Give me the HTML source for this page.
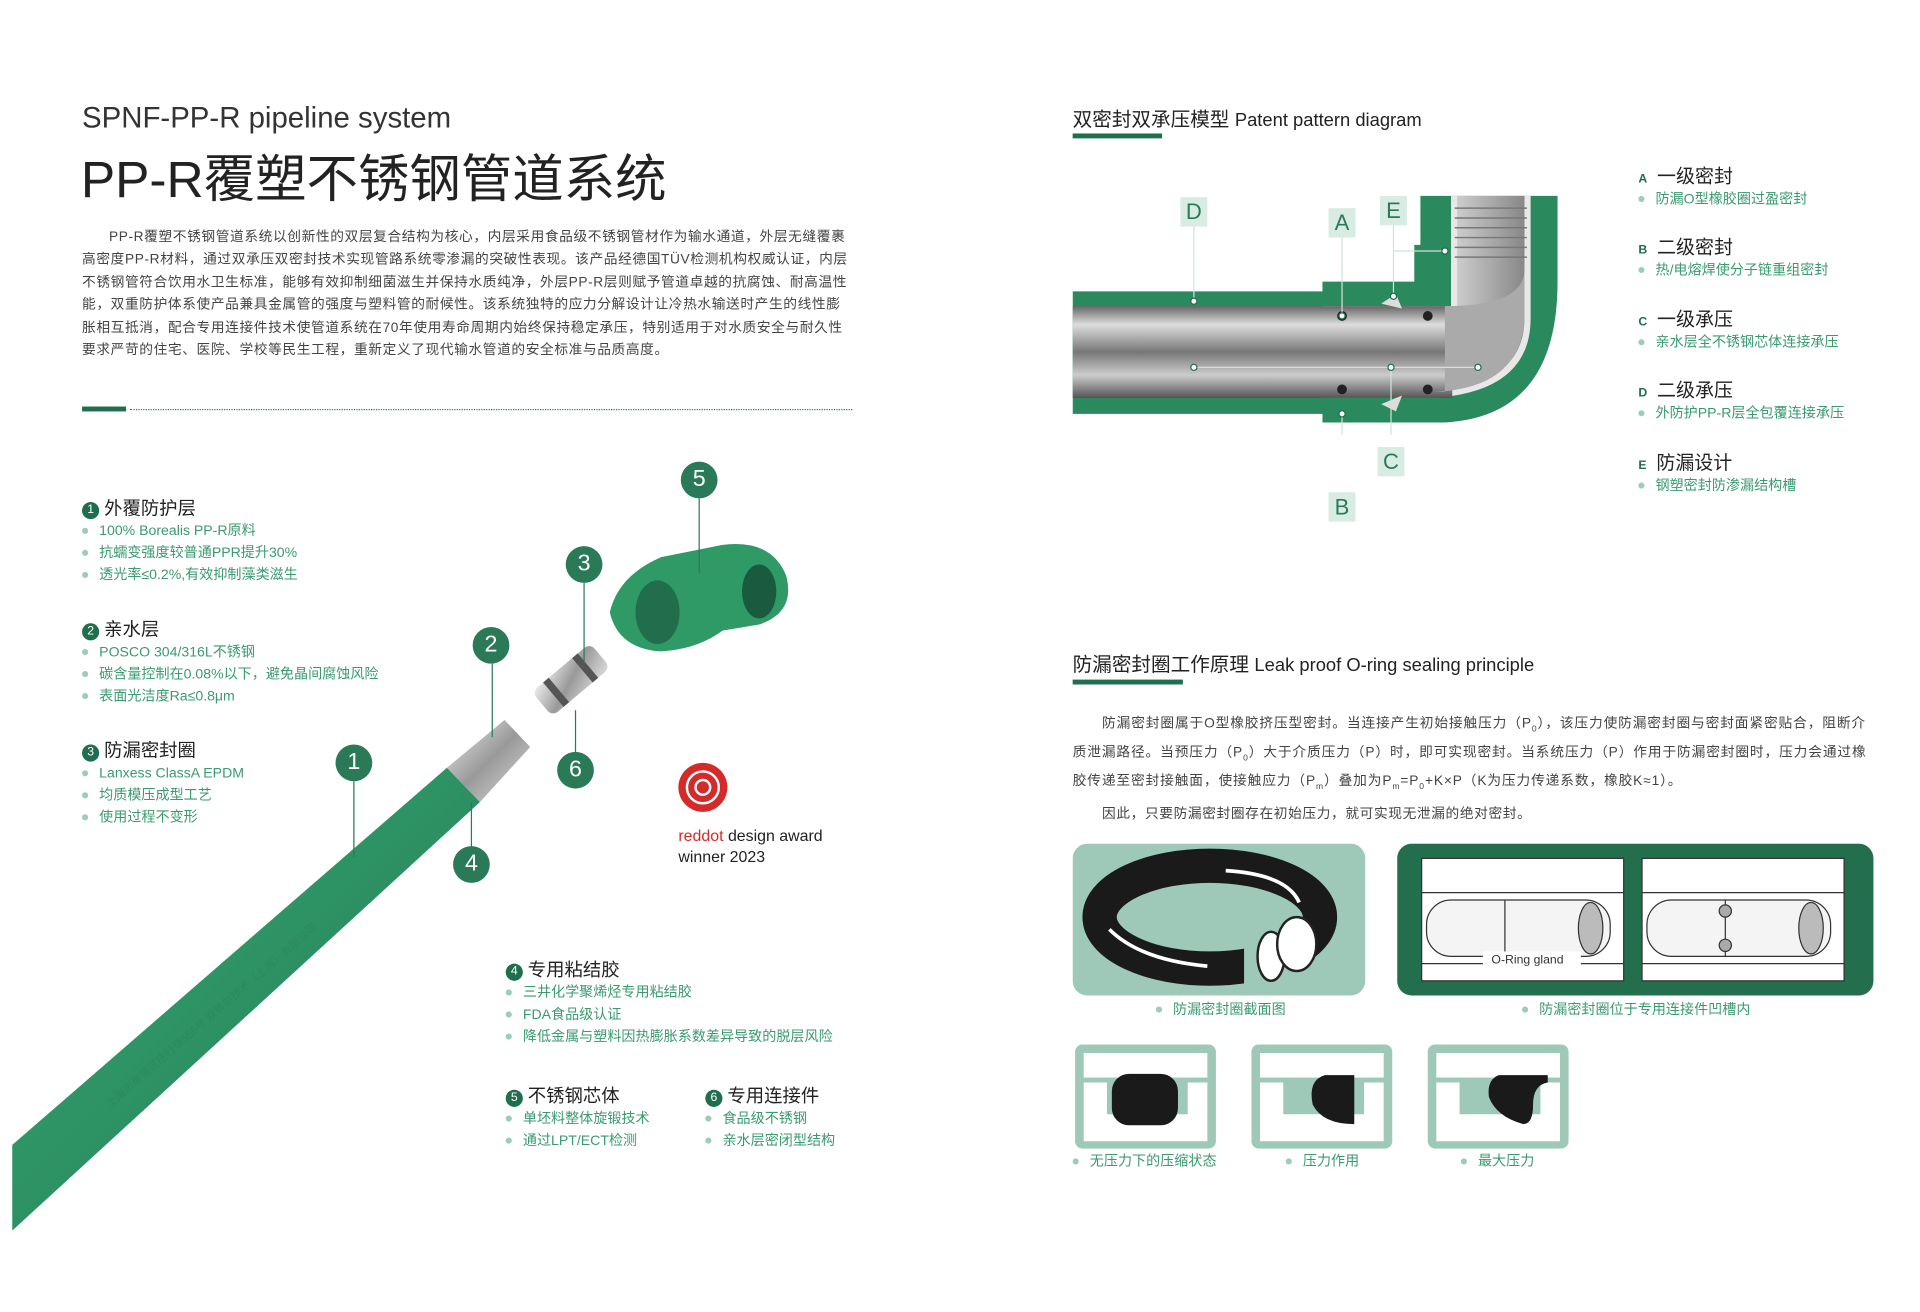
<!DOCTYPE html>
<html><head><meta charset="utf-8"><style>
*{margin:0;padding:0;box-sizing:border-box}
html,body{width:1920px;height:1312px;overflow:hidden;background:#fff}
#w{position:absolute;left:0;top:0;width:1568px;height:1071px;transform:scale(1.22449);transform-origin:0 0;font-family:"Liberation Sans","Noto Sans CJK SC",sans-serif;color:#333}
.a{position:absolute;white-space:nowrap}
.p{font-size:11.2px;line-height:18.4px;color:#444;white-space:normal;letter-spacing:0.5px}
.h{font-size:15px;color:#222}
.b{font-size:11.5px;color:#3a9a70;line-height:18px}
.b span{display:inline-block;width:5px;height:5px;border-radius:50%;background:#9ccdb6;margin-right:9px;vertical-align:middle}
.n{display:inline-block;width:14px;height:14px;border-radius:50%;background:#1f6e4e;color:#fff;font-size:10px;text-align:center;line-height:14px;margin-right:4px;vertical-align:1px}
.c{position:absolute;width:30px;height:30px;border-radius:50%;background:#2a7a58;color:#fff;font-size:19px;text-align:center;line-height:30px}
.L{position:absolute;width:22px;height:24px;background:#d8ece4;color:#2a7a58;font-size:18px;text-align:center;line-height:24px}
.k{font-size:10px;font-weight:bold;color:#1f6e4e;margin-right:8px}
</style></head><body><div id="w">
<div class="a" style="left:67px;top:83px;font-size:24px;color:#333">SPNF-PP-R pipeline system</div>
<div class="a" style="left:66px;top:113px;font-size:42px;color:#222">PP-R覆塑不锈钢管道系统</div>
<div class="a p" style="left:67px;top:185px;width:630px;text-indent:22px">PP-R覆塑不锈钢管道系统以创新性的双层复合结构为核心，内层采用食品级不锈钢管材作为输水通道，外层无缝覆裹高密度PP-R材料，通过双承压双密封技术实现管路系统零渗漏的突破性表现。该产品经德国TÜV检测机构权威认证，内层不锈钢管符合饮用水卫生标准，能够有效抑制细菌滋生并保持水质纯净，外层PP-R层则赋予管道卓越的抗腐蚀、耐高温性能，双重防护体系使产品兼具金属管的强度与塑料管的耐候性。该系统独特的应力分解设计让冷热水输送时产生的线性膨胀相互抵消，配合专用连接件技术使管道系统在70年使用寿命周期内始终保持稳定承压，特别适用于对水质安全与耐久性要求严苛的住宅、医院、学校等民生工程，重新定义了现代输水管道的安全标准与品质高度。</div>
<div class="a" style="left:67px;top:332px;width:36px;height:4px;background:#1f6e4e"></div>
<div class="a" style="left:106px;top:334px;width:590px;border-top:1px dotted #2a7a58"></div>

<div class="a" style="left:67px;top:404px"><div class="h"><span class="n">1</span>外覆防护层</div><div class="b"><span></span>100% Borealis PP-R原料</div><div class="b"><span></span>抗蠕变强度较普通PPR提升30%</div><div class="b"><span></span>透光率≤0.2%,有效抑制藻类滋生</div></div>
<div class="a" style="left:67px;top:503px"><div class="h"><span class="n">2</span>亲水层</div><div class="b"><span></span>POSCO 304/316L不锈钢</div><div class="b"><span></span>碳含量控制在0.08%以下，避免晶间腐蚀风险</div><div class="b"><span></span>表面光洁度Ra≤0.8μm</div></div>
<div class="a" style="left:67px;top:602px"><div class="h"><span class="n">3</span>防漏密封圈</div><div class="b"><span></span>Lanxess ClassA EPDM</div><div class="b"><span></span>均质模压成型工艺</div><div class="b"><span></span>使用过程不变形</div></div>
<div class="a" style="left:413px;top:781px"><div class="h"><span class="n">4</span>专用粘结胶</div><div class="b"><span></span>三井化学聚烯烃专用粘结胶</div><div class="b"><span></span>FDA食品级认证</div><div class="b"><span></span>降低金属与塑料因热膨胀系数差异导致的脱层风险</div></div>
<div class="a" style="left:413px;top:884px"><div class="h"><span class="n">5</span>不锈钢芯体</div><div class="b"><span></span>单坯料整体旋锻技术</div><div class="b"><span></span>通过LPT/ECT检测</div></div>
<div class="a" style="left:576px;top:884px"><div class="h"><span class="n">6</span>专用连接件</div><div class="b"><span></span>食品级不锈钢</div><div class="b"><span></span>亲水层密闭型结构</div></div>

<svg class="a" style="left:0;top:370px" width="700" height="650" viewBox="0 370 700 650">
<defs><linearGradient id="s" x1="0" y1="0" x2="1" y2="1"><stop offset="0" stop-color="#eee"/><stop offset=".5" stop-color="#999"/><stop offset="1" stop-color="#ddd"/></linearGradient>
<linearGradient id="g" x1="0" y1="0" x2="1" y2="1"><stop offset="0" stop-color="#3aa874"/><stop offset="1" stop-color="#1f7a52"/></linearGradient></defs>
<polygon points="10,935 365,627 392,655 10,1005" fill="url(#g)"/>
<polygon points="365,627 412,588 433,610 392,655" fill="url(#s)"/>
<text x="90" y="905" fill="#2a8a5e" font-size="9" transform="rotate(-41 90 905)">上海市奉贤区庄行镇555号   双锁尔技术（上海）有限公司</text>
<g transform="rotate(-40 465 555)"><rect x="435" y="543" width="62" height="26" rx="6" fill="url(#s)"/><rect x="447" y="543" width="6" height="26" fill="#555"/><rect x="478" y="543" width="6" height="26" fill="#555"/></g>
<path d="M498 500 Q505 470 540 455 L590 445 Q630 440 642 470 Q650 500 620 510 L590 515 Q570 530 540 532 Q505 530 498 500Z" fill="#2f9a66"/>
<ellipse cx="537" cy="500" rx="18" ry="26" fill="#226d4c"/><ellipse cx="620" cy="483" rx="14" ry="22" fill="#1a5a3e"/>
<g stroke="#2a7a58" stroke-width="1" fill="none"><line x1="571" y1="407" x2="571" y2="468"/><line x1="477" y1="476" x2="477" y2="540"/><line x1="470" y1="580" x2="470" y2="615"/><line x1="402" y1="542" x2="402" y2="602"/><line x1="289" y1="638" x2="289" y2="700"/><line x1="385" y1="655" x2="385" y2="692"/></g>
</svg>
<div class="c" style="left:556px;top:377px">5</div><div class="c" style="left:462px;top:446px">3</div><div class="c" style="left:386px;top:512px">2</div><div class="c" style="left:455px;top:614px">6</div><div class="c" style="left:274px;top:608px">1</div><div class="c" style="left:370px;top:691px">4</div>
<svg class="a" style="left:553px;top:622px" width="42" height="42"><circle cx="21" cy="21" r="20" fill="#d42a2a"/><circle cx="21" cy="21" r="13" fill="none" stroke="#fff" stroke-width="2"/><circle cx="21" cy="21" r="6" fill="none" stroke="#fff" stroke-width="2"/></svg>
<div class="a" style="left:554px;top:674px;font-size:13px;line-height:17px;color:#222"><span style="color:#d42a2a">reddot</span> design award<br>winner 2023</div>

<div class="a" style="left:876px;top:84px;font-size:16px;color:#222">双密封双承压模型 <span style="font-size:15px">Patent pattern diagram</span></div>
<div class="a" style="left:876px;top:109px;width:73px;height:4px;background:#1f6e4e"></div>
<svg class="a" style="left:876px;top:155px" width="410" height="200" viewBox="876 155 410 200">
<defs><linearGradient id="m" x1="0" y1="0" x2="0" y2="1"><stop offset="0" stop-color="#666"/><stop offset=".2" stop-color="#ddd"/><stop offset=".5" stop-color="#777"/><stop offset=".75" stop-color="#ccc"/><stop offset="1" stop-color="#555"/></linearGradient>
<linearGradient id="t" x1="0" y1="0" x2="1" y2="0"><stop offset="0" stop-color="#888"/><stop offset=".5" stop-color="#eee"/><stop offset="1" stop-color="#888"/></linearGradient></defs>
<path d="M876 238 L1080 238 L1080 230 L1155 230 L1155 200 L1160 200 L1160 160 L1272 160 L1272 230 Q1272 340 1180 345 L1080 345 L1080 338 L876 338Z" fill="#2a8a5e"/>
<path d="M1185 160 L1250 160 L1250 260 Q1250 320 1170 325 L1080 325 L1080 250 L1185 250Z" fill="#e8e8e8"/>
<path d="M1190 160 L1245 160 L1245 262 Q1243 315 1170 318 L1080 318 L1080 258 L1190 258Z" fill="url(#t)"/>
<g stroke="#777" stroke-width="1.2"><line x1="1188" y1="170" x2="1247" y2="170"/><line x1="1188" y1="178" x2="1247" y2="178"/><line x1="1188" y1="186" x2="1247" y2="186"/><line x1="1188" y1="194" x2="1247" y2="194"/><line x1="1188" y1="202" x2="1247" y2="202"/><line x1="1188" y1="210" x2="1247" y2="210"/></g>
<rect x="876" y="250" width="310" height="75" fill="url(#m)"/>
<path d="M1180 250 Q1245 250 1245 220 L1245 262 Q1240 318 1170 320 L1180 320Z" fill="#aaa"/>
<g fill="#222"><circle cx="1096" cy="258" r="4"/><circle cx="1096" cy="318" r="4"/><circle cx="1166" cy="258" r="4"/><circle cx="1166" cy="318" r="4"/></g>
<path d="M1128 248 L1140 240 L1145 252Z M1128 330 L1140 336 L1145 323Z" fill="#ddd"/>
<g stroke="#cfe3da" stroke-width="1" fill="#fff"><line x1="975" y1="185" x2="975" y2="246"/><line x1="1096" y1="192" x2="1096" y2="258"/><line x1="1138" y1="182" x2="1138" y2="242"/><line x1="1138" y1="205" x2="1180" y2="205"/><line x1="975" y1="300" x2="1207" y2="300"/><line x1="1136" y1="300" x2="1136" y2="365"/><line x1="1096" y1="338" x2="1096" y2="400"/></g>
<g fill="#fff" stroke="#1f6e4e" stroke-width="1"><circle cx="975" cy="246" r="2.5"/><circle cx="1096" cy="258" r="2.5"/><circle cx="1138" cy="242" r="2.5"/><circle cx="1180" cy="205" r="2.5"/><circle cx="975" cy="300" r="2.5"/><circle cx="1136" cy="300" r="2.5"/><circle cx="1207" cy="300" r="2.5"/><circle cx="1096" cy="338" r="2.5"/></g>
</svg>
<div class="L" style="left:964px;top:161px">D</div><div class="L" style="left:1085px;top:170px">A</div><div class="L" style="left:1127px;top:160px">E</div><div class="L" style="left:1125px;top:365px">C</div><div class="L" style="left:1085px;top:402px">B</div>

<div class="a" style="left:1338px;top:132px"><div class="h" style="font-size:15.5px"><span class="k">A</span>一级密封</div><div class="b"><span></span>防漏O型橡胶圈过盈密封</div></div>
<div class="a" style="left:1338px;top:190px"><div class="h" style="font-size:15.5px"><span class="k">B</span>二级密封</div><div class="b"><span></span>热/电熔焊使分子链重组密封</div></div>
<div class="a" style="left:1338px;top:249px"><div class="h" style="font-size:15.5px"><span class="k">C</span>一级承压</div><div class="b"><span></span>亲水层全不锈钢芯体连接承压</div></div>
<div class="a" style="left:1338px;top:307px"><div class="h" style="font-size:15.5px"><span class="k">D</span>二级承压</div><div class="b"><span></span>外防护PP-R层全包覆连接承压</div></div>
<div class="a" style="left:1338px;top:366px"><div class="h" style="font-size:15.5px"><span class="k">E</span>防漏设计</div><div class="b"><span></span>钢塑密封防渗漏结构槽</div></div>

<div class="a" style="left:876px;top:529px;font-size:16px;color:#222">防漏密封圈工作原理 <span style="font-size:15px">Leak proof O-ring sealing principle</span></div>
<div class="a" style="left:876px;top:555px;width:90px;height:4px;background:#1f6e4e"></div>
<div class="a p" style="left:876px;top:582px;width:652px;text-indent:24px;letter-spacing:0.72px">防漏密封圈属于O型橡胶挤压型密封。当连接产生初始接触压力（P<sub style="font-size:7px">0</sub>），该压力使防漏密封圈与密封面紧密贴合，阻断介质泄漏路径。当预压力（P<sub style="font-size:7px">0</sub>）大于介质压力（P）时，即可实现密封。当系统压力（P）作用于防漏密封圈时，压力会通过橡胶传递至密封接触面，使接触应力（P<sub style="font-size:7px">m</sub>）叠加为P<sub style="font-size:7px">m</sub>=P<sub style="font-size:7px">0</sub>+K×P（K为压力传递系数，橡胶K≈1）。</div>
<div class="a p" style="left:900px;top:656px">因此，只要防漏密封圈存在初始压力，就可实现无泄漏的绝对密封。</div>

<svg class="a" style="left:876px;top:689px" width="239" height="124"><rect width="239" height="124" rx="12" fill="#9ec9b8"/>
<ellipse cx="112" cy="60" rx="90" ry="42" fill="none" stroke="#1a1a1a" stroke-width="28"/><path d="M125 22 Q175 25 185 48" stroke="#fff" stroke-width="3" fill="none"/><path d="M30 70 Q55 95 110 100" stroke="#fff" stroke-width="3" fill="none"/>
<rect x="140" y="55" width="40" height="60" fill="#9ec9b8"/><ellipse cx="162" cy="92" rx="11" ry="20" fill="#fff" stroke="#222" stroke-width="2"/><ellipse cx="183" cy="82" rx="16" ry="22" fill="#fff" stroke="#222" stroke-width="2"/></svg>
<svg class="a" style="left:1141px;top:689px" width="389" height="124"><rect width="389" height="124" rx="12" fill="#236e4d"/>
<g fill="#fff" stroke="#333" stroke-width="1"><rect x="20" y="12" width="165" height="100"/><rect x="200" y="12" width="165" height="100"/>
<rect x="24" y="46" width="150" height="46" rx="20" fill="#f4f4f4"/><rect x="204" y="46" width="150" height="46" rx="20" fill="#f4f4f4"/><ellipse cx="158" cy="69" rx="10" ry="21" fill="#bbb"/><ellipse cx="338" cy="69" rx="10" ry="21" fill="#bbb"/><line x1="20" y1="40" x2="185" y2="40"/><line x1="20" y1="98" x2="185" y2="98"/><line x1="200" y1="40" x2="365" y2="40"/><line x1="200" y1="98" x2="365" y2="98"/><line x1="88" y1="46" x2="88" y2="92"/><line x1="268" y1="46" x2="268" y2="92"/><circle cx="268" cy="55" r="5" fill="#aaa"/><circle cx="268" cy="83" r="5" fill="#aaa"/></g>
<rect x="70" y="88" width="80" height="14" fill="#fff"/>
<text x="77" y="98" font-size="10" fill="#333" font-family="Liberation Sans">O-Ring gland</text></svg>
<div class="a b" style="left:944px;top:816px"><span></span>防漏密封圈截面图</div>
<div class="a b" style="left:1243px;top:816px"><span></span>防漏密封圈位于专用连接件凹槽内</div>

<svg class="a" style="left:876px;top:852px" width="410" height="88">
<g><rect x="2" y="1" width="115" height="85" rx="6" fill="#9ec9b8"/><rect x="9" y="8" width="101" height="20" fill="#fff"/><path d="M9 32 H28 V58 H94 V32 H110 V80 H9Z" fill="#fff"/><rect x="32" y="25" width="54" height="42" rx="14" fill="#1a1a1a"/></g>
<g transform="translate(144,0)"><rect x="2" y="1" width="115" height="85" rx="6" fill="#9ec9b8"/><rect x="9" y="8" width="101" height="20" fill="#fff"/><path d="M9 32 H28 V58 H94 V32 H110 V80 H9Z" fill="#fff"/><path d="M62 26 H86 V66 Q60 66 52 50 Q48 30 62 26Z" fill="#1a1a1a"/></g>
<g transform="translate(288,0)"><rect x="2" y="1" width="115" height="85" rx="6" fill="#9ec9b8"/><rect x="9" y="8" width="101" height="20" fill="#fff"/><path d="M9 32 H28 V58 H94 V32 H110 V80 H9Z" fill="#fff"/><path d="M60 26 H100 V32 Q88 34 88 50 Q88 66 80 66 Q58 60 52 44 Q50 30 60 26Z" fill="#1a1a1a"/></g></svg>
<div class="a b" style="left:876px;top:940px"><span></span>无压力下的压缩状态</div>
<div class="a b" style="left:1050px;top:940px"><span></span>压力作用</div>
<div class="a b" style="left:1193px;top:940px"><span></span>最大压力</div>
</div></body></html>
